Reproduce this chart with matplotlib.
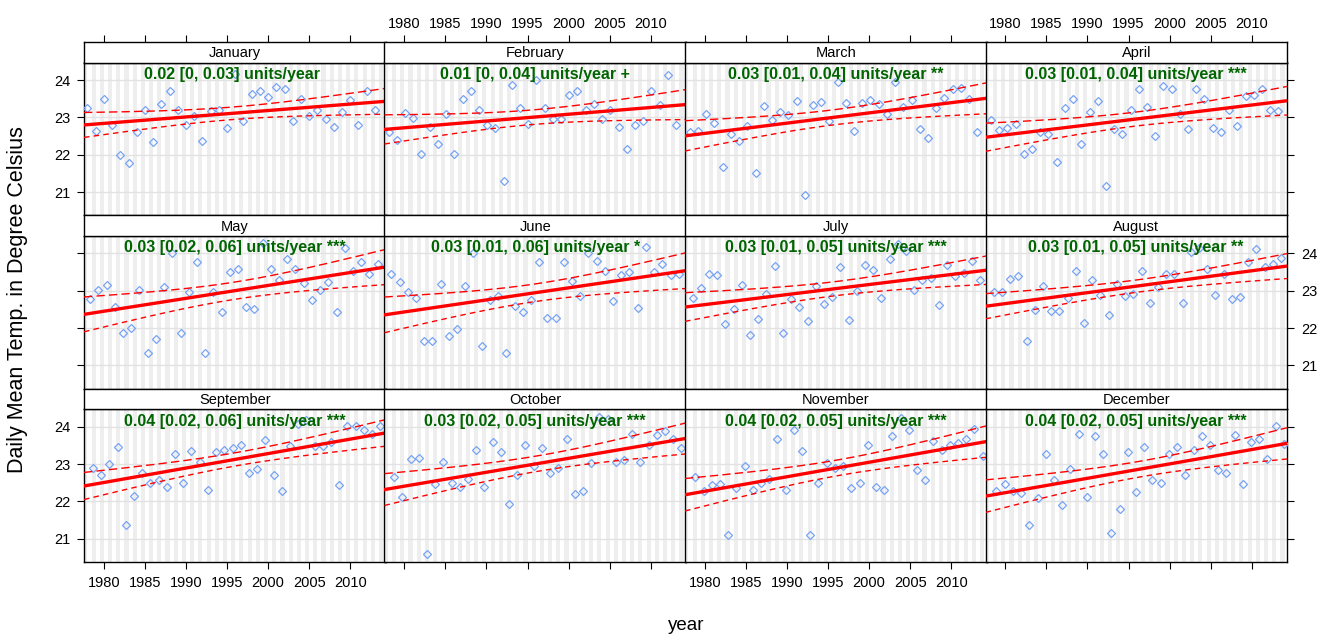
import numpy as np
import matplotlib
matplotlib.use("Agg")
import matplotlib.pyplot as plt

plt.rcParams['font.family'] = ['Liberation Sans', 'DejaVu Sans']

years = np.arange(1978, 2014)
months = ["January", "February", "March", "April", "May", "June",
          "July", "August", "September", "October", "November", "December"]

# monthly mean temperatures, one value per year 1978..2013
temp_jan = [23.25, 22.63, 23.49, 22.79, 21.99, 21.77, 22.62, 23.21, 22.34, 23.37, 23.71, 23.21,
            22.79, 23.05, 22.37, 23.16, 23.19, 22.72, 24.15, 22.91, 23.64, 23.71, 23.54, 23.82,
            23.75, 22.91, 23.50, 23.04, 23.21, 22.97, 22.75, 23.14, 23.46, 22.79, 23.71, 23.20]
temp_feb = [22.62, 22.39, 23.11, 22.99, 22.01, 22.75, 22.30, 23.09, 22.01, 23.49, 23.71, 23.19,
            22.79, 22.72, 21.31, 23.86, 23.25, 22.83, 24.00, 23.25, 22.96, 22.96, 23.60, 23.71,
            23.19, 23.37, 22.96, 23.19, 22.75, 22.16, 22.79, 22.90, 23.71, 23.33, 24.14, 22.79]
temp_mar = [22.62, 22.63, 23.09, 22.86, 21.67, 22.55, 22.36, 22.77, 21.52, 23.30, 22.94, 23.15,
            23.07, 23.43, 20.93, 23.33, 23.40, 22.90, 23.96, 23.39, 22.64, 23.39, 23.47, 23.37,
            23.08, 23.95, 23.28, 23.47, 22.69, 22.46, 23.25, 23.51, 23.75, 23.78, 23.49, 22.62]
temp_apr = [22.93, 22.66, 22.72, 22.83, 22.01, 22.16, 22.61, 22.55, 21.80, 23.26, 23.49, 22.29,
            23.15, 23.43, 21.17, 22.68, 22.55, 23.21, 23.75, 23.29, 22.51, 23.85, 23.75, 23.10,
            22.68, 23.75, 23.49, 22.72, 22.61, 23.21, 22.76, 23.58, 23.61, 23.75, 23.21, 23.17]
temp_may = [22.78, 23.01, 23.14, 22.56, 21.87, 22.01, 23.03, 21.34, 21.70, 23.11, 24.02, 21.87,
            22.97, 23.77, 21.34, 22.97, 22.44, 23.49, 23.59, 22.57, 22.50, 24.27, 23.57, 23.30,
            23.84, 23.57, 23.21, 22.75, 23.01, 23.24, 22.44, 24.14, 23.54, 23.77, 23.46, 23.71]
temp_jun = [23.46, 23.24, 22.96, 22.81, 21.65, 21.65, 23.17, 21.80, 21.97, 23.13, 24.02, 21.52,
            22.74, 22.86, 21.34, 22.60, 22.44, 22.75, 23.77, 22.26, 22.26, 23.77, 23.26, 22.86,
            24.02, 23.80, 23.53, 22.72, 23.41, 23.50, 22.54, 24.16, 23.50, 23.71, 23.41, 23.44]
temp_jul = [22.81, 23.06, 23.46, 23.42, 22.11, 22.50, 23.14, 21.82, 22.25, 22.91, 23.67, 21.86,
            22.78, 22.56, 22.18, 23.12, 22.64, 22.84, 23.63, 22.22, 22.99, 23.70, 23.56, 22.81,
            23.84, 24.25, 24.06, 23.03, 23.30, 23.33, 22.61, 23.70, 23.39, 23.47, 23.79, 23.28]
temp_aug = [22.96, 22.96, 23.31, 23.39, 21.65, 22.49, 23.13, 22.47, 22.47, 22.81, 23.53, 22.14,
            23.28, 22.88, 22.36, 23.19, 22.87, 22.92, 23.52, 22.68, 23.09, 23.46, 23.46, 22.68,
            24.03, 24.15, 23.59, 22.88, 23.46, 22.78, 22.84, 23.77, 24.12, 23.63, 23.71, 23.88]
temp_sep = [22.90, 22.72, 23.00, 23.46, 21.37, 22.15, 22.77, 22.50, 22.57, 22.40, 23.28, 22.50,
            23.36, 23.06, 22.32, 23.32, 23.39, 23.43, 23.52, 22.76, 22.86, 23.64, 22.72, 22.29,
            23.49, 24.07, 24.17, 23.49, 23.49, 23.59, 22.44, 24.02, 24.02, 23.92, 23.80, 24.02]
temp_oct = [22.65, 22.11, 23.14, 23.17, 20.59, 22.47, 23.06, 22.50, 22.40, 22.61, 23.39, 22.40,
            23.60, 23.32, 21.94, 22.72, 23.52, 22.95, 23.42, 22.76, 22.89, 23.68, 22.19, 22.29,
            23.03, 24.27, 24.21, 23.06, 23.10, 23.81, 23.06, 23.50, 23.77, 23.88, 23.67, 23.42]
temp_nov = [22.65, 22.29, 22.43, 22.46, 21.09, 22.36, 22.95, 22.32, 22.50, 22.61, 23.67, 22.32,
            23.91, 23.35, 21.09, 22.50, 23.03, 22.89, 22.95, 22.36, 22.50, 23.50, 22.40, 22.32,
            23.74, 24.23, 23.91, 22.83, 22.58, 23.63, 23.39, 23.50, 23.56, 23.67, 23.95, 23.23]
temp_dec = [22.29, 22.47, 22.29, 22.22, 21.38, 22.09, 23.28, 22.57, 21.91, 22.86, 23.81, 22.12,
            23.74, 23.28, 21.16, 21.79, 23.32, 22.25, 23.46, 22.57, 22.50, 23.28, 23.46, 22.72,
            23.39, 23.74, 23.50, 22.83, 22.76, 23.77, 22.47, 23.59, 23.67, 23.14, 24.02, 23.53]

temps = [temp_jan, temp_feb, temp_mar, temp_apr, temp_may, temp_jun,
         temp_jul, temp_aug, temp_sep, temp_oct, temp_nov, temp_dec]

# trend estimate, its interval and significance code per month
trend = [0.02, 0.01, 0.03, 0.03, 0.03, 0.03, 0.03, 0.03, 0.04, 0.03, 0.04, 0.04]
trend_lo = [0, 0, 0.01, 0.01, 0.02, 0.01, 0.01, 0.01, 0.02, 0.02, 0.02, 0.02]
trend_hi = [0.03, 0.04, 0.04, 0.04, 0.06, 0.06, 0.05, 0.05, 0.06, 0.05, 0.05, 0.05]
signif = ["", "+", "**", "***", "***", "*", "***", "**", "***", "***", "***", "***"]

xticks = [1980, 1985, 1990, 1995, 2000, 2005, 2010]
yticks = [21, 22, 23, 24]
xlim = (1977.58, 2014.3)
ylim = (20.38, 24.47)

W, H = 1332, 637
fig = plt.figure(figsize=(W / 100, H / 100), dpi=100)

col_left = [84, 384.5, 685, 985.5]
panel_w = 301.5
row_top = [42, 215.3, 388.7]
strip_h = 20.5
panel_h = 152.8

t_crit = 2.032  # t(0.975, df=34)


def fig_rect(x, y, w, h):
    return [x / W, 1 - (y + h) / H, w / W, h / H]


for i, (name, vals) in enumerate(zip(months, temps)):
    r, c = divmod(i, 4)
    x0 = col_left[c]
    y0 = row_top[r]

    ax = fig.add_axes(fig_rect(x0, y0 + strip_h, panel_w, panel_h))
    ax.set_xlim(*xlim)
    ax.set_ylim(*ylim)

    # background year stripes and grid lines
    for yr in range(1977, 2015):
        ax.axvspan(yr + 0.5, yr + 1.0, color="#eeeeee", lw=0, zorder=0)
    for yv in yticks:
        ax.axhline(yv, color="#e2e2e2", lw=1.0, zorder=1)

    x = years + i / 12.0
    y = np.array(vals)
    ax.plot(x, y, linestyle="none", marker="D", markersize=4.4,
            markerfacecolor="none", markeredgecolor="#76a3f5",
            markeredgewidth=0.9, zorder=3)

    # least squares fit with 95% confidence band of the mean
    b, a = np.polyfit(x, y, 1)
    resid = y - (a + b * x)
    n = len(x)
    s = np.sqrt(np.sum(resid ** 2) / (n - 2))
    sxx = np.sum((x - x.mean()) ** 2)
    xs = np.linspace(xlim[0], xlim[1], 200)
    fit = a + b * xs
    se = s * np.sqrt(1.0 / n + (xs - x.mean()) ** 2 / sxx)
    ax.plot(xs, fit, color="red", lw=2.4, zorder=4)
    ax.plot(xs, fit + t_crit * se, color="red", lw=1.0, ls=(0, (6, 3)), zorder=4)
    ax.plot(xs, fit - t_crit * se, color="red", lw=1.0, ls=(0, (4, 3)), zorder=4)

    label = f"{trend[i]:g} [{trend_lo[i]:g}, {trend_hi[i]:g}] units/year {signif[i]}"
    ax.text(0.5, 0.97, label, transform=ax.transAxes, ha="center", va="top",
            color="#006400", fontweight="bold", fontsize=11.5, zorder=5)

    ax.set_xticks(xticks)
    ax.set_yticks(yticks)
    ax.tick_params(direction="out", length=5, width=0.8, labelsize=10.5, pad=5,
                   left=(c == 0), labelleft=(c == 0 and r != 1),
                   right=(c == 3), labelright=(c == 3 and r == 1),
                   bottom=(r == 2), labelbottom=(r == 2 and c in (0, 2)),
                   top=False, labeltop=False)
    for sp in ax.spines.values():
        sp.set_linewidth(1.0)

    # strip with the month name
    sax = fig.add_axes(fig_rect(x0, y0, panel_w, strip_h))
    sax.set_xlim(*xlim)
    sax.set_facecolor("white")
    sax.set_yticks([])
    sax.set_xticks(xticks)
    sax.tick_params(direction="out", length=5, width=0.8, labelsize=10.5, pad=3,
                    bottom=False, labelbottom=False,
                    top=(r == 0), labeltop=(r == 0 and c in (1, 3)))
    for sp in sax.spines.values():
        sp.set_linewidth(1.0)
    sax.text(0.5, 0.45, name, transform=sax.transAxes, ha="center",
             va="center", fontsize=10.5)

fig.text(18 / W, 1 - 300 / H, "Daily Mean Temp. in Degree Celsius",
         rotation=90, ha="center", va="center", fontsize=15.5)
fig.text(686 / W, 1 - 625 / H, "year", ha="center", va="center", fontsize=13.5)

fig.savefig("out.png", dpi=100)
